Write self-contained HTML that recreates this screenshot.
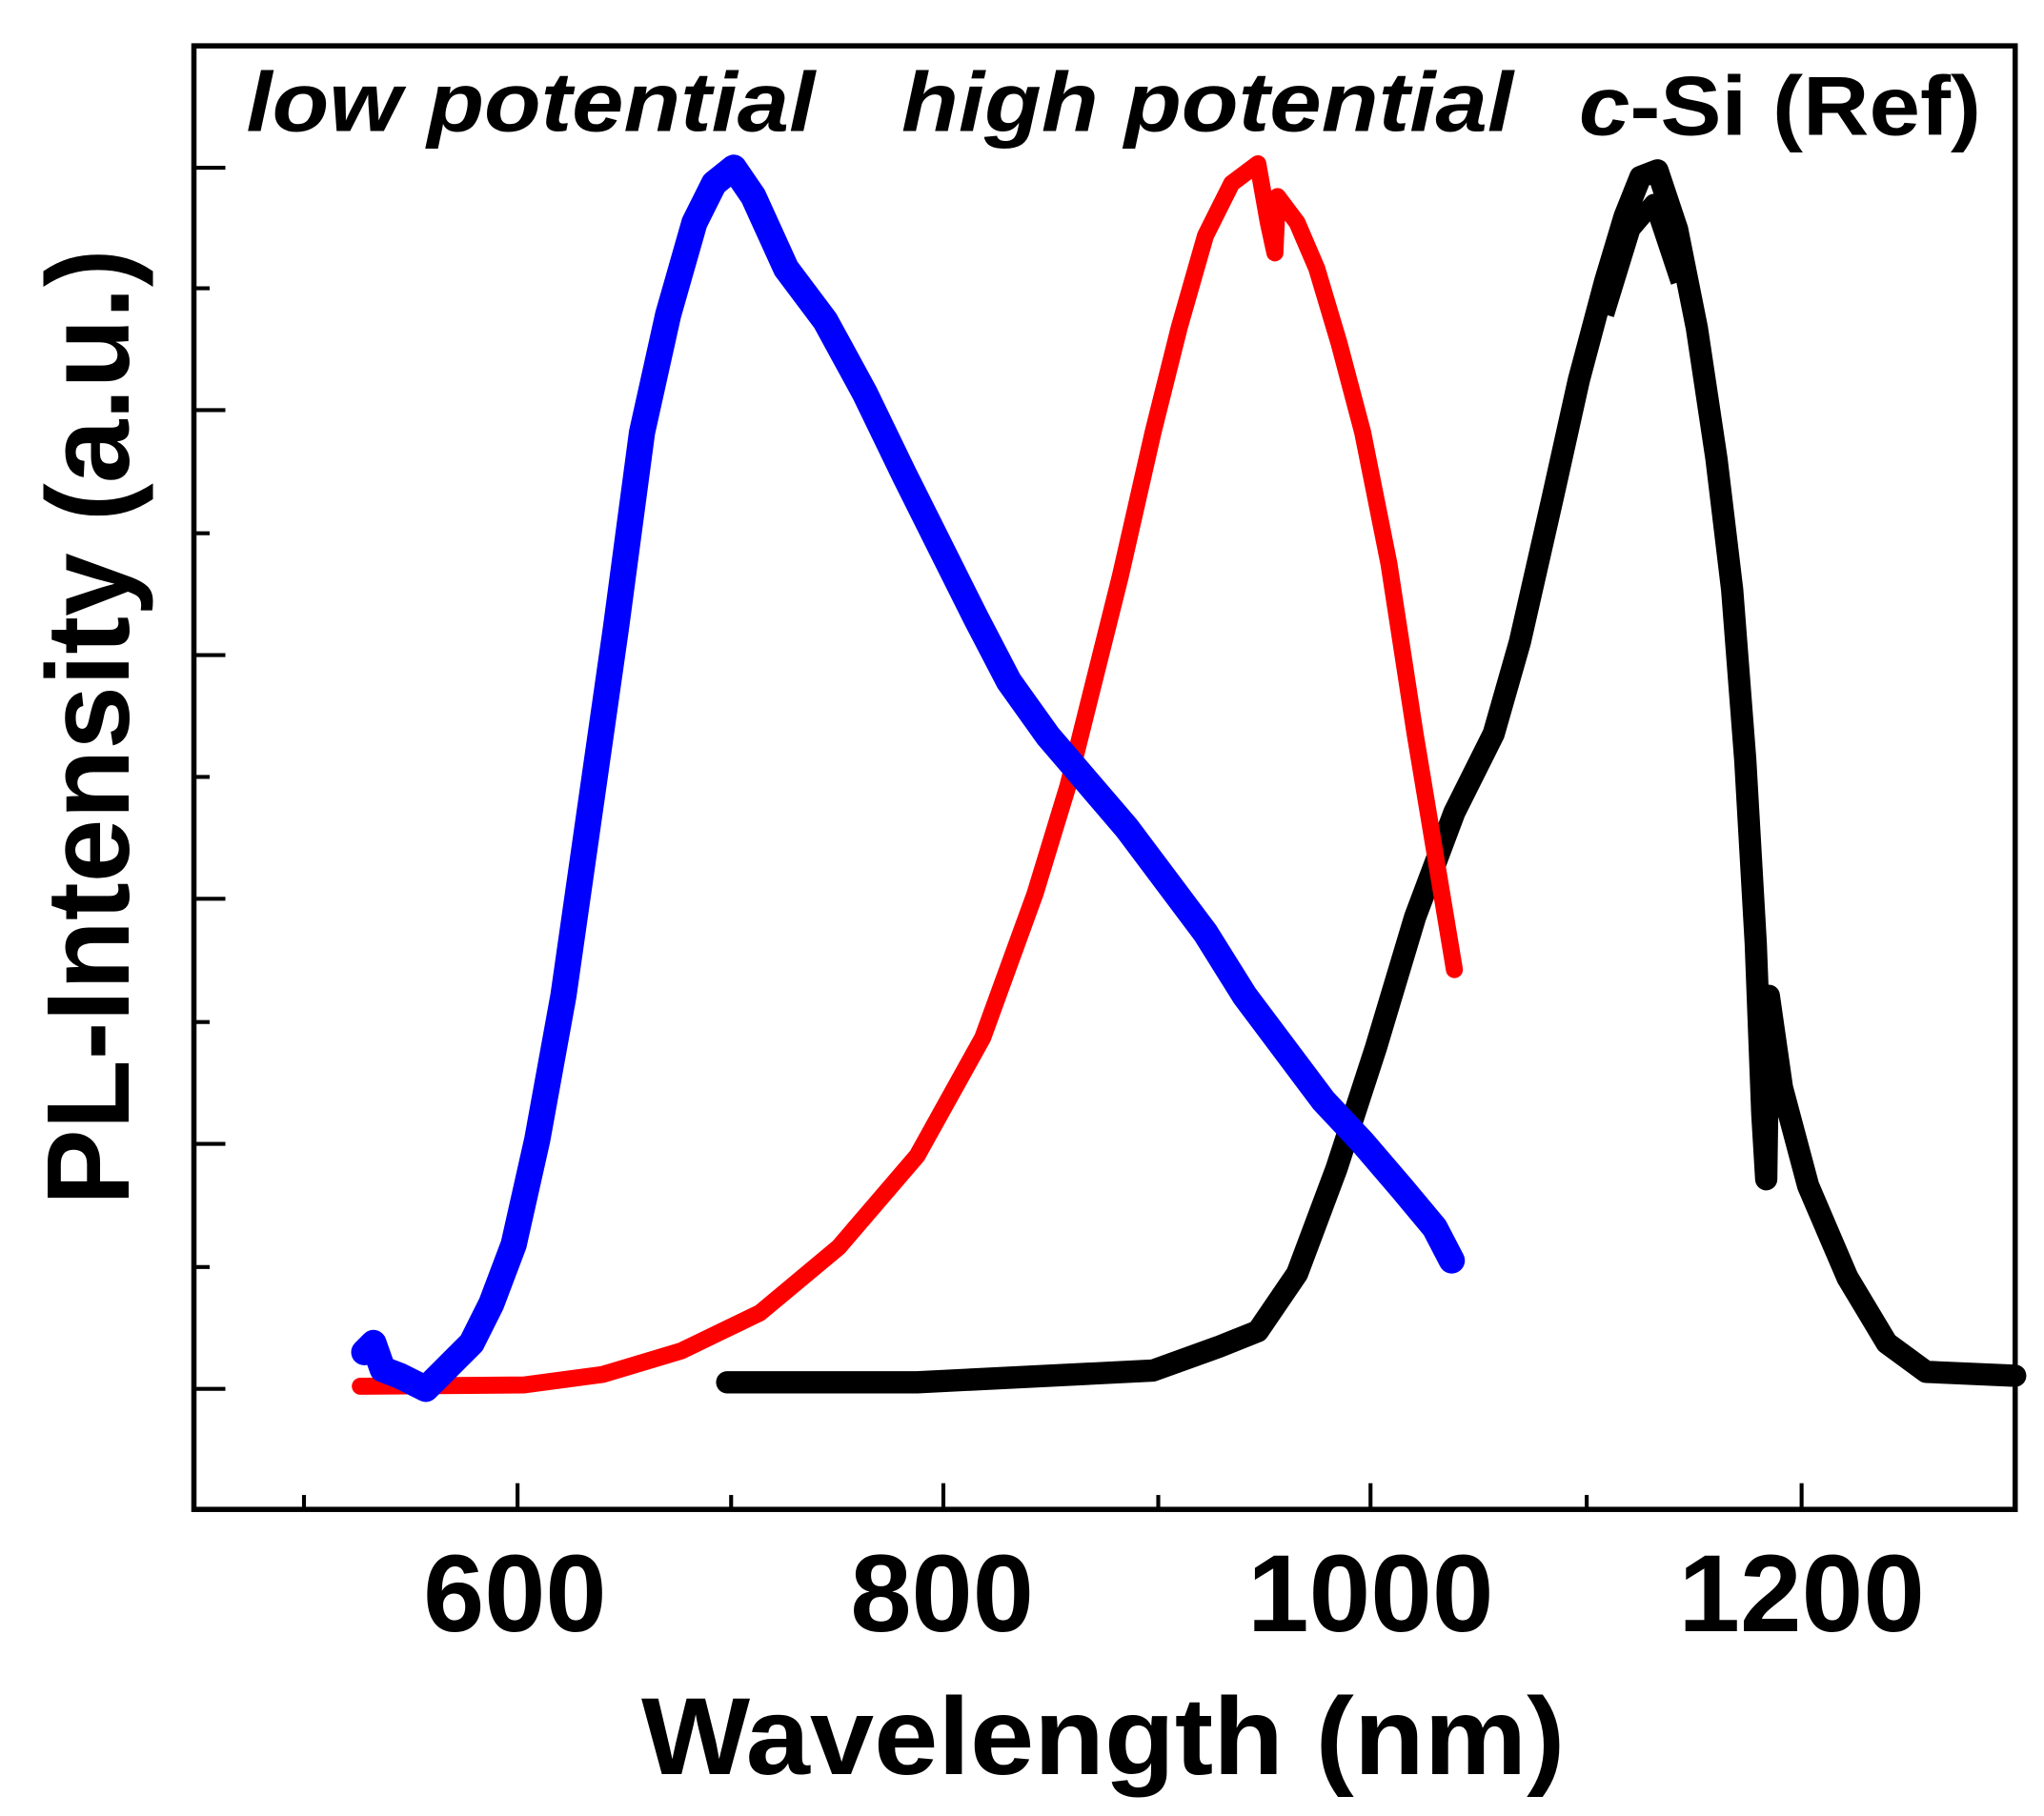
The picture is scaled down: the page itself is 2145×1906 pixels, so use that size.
<!DOCTYPE html>
<html><head><meta charset="utf-8"><style>
html,body{margin:0;padding:0;background:#fff;}
svg{display:block;}
text{font-family:"Liberation Sans",Arial,sans-serif;font-weight:bold;fill:#000;}
</style></head><body>
<svg width="2145" height="1906" viewBox="0 0 1560 1386" preserveAspectRatio="none" xmlns="http://www.w3.org/2000/svg">
<rect width="1560" height="1386" fill="#fff"/>
<rect x="148" y="35" width="1390" height="1117" fill="none" stroke="#000" stroke-width="4"/>
<g stroke="#000" stroke-width="3">
<line x1="232" y1="1152" x2="232" y2="1141"/>
<line x1="395" y1="1152" x2="395" y2="1132"/>
<line x1="558" y1="1152" x2="558" y2="1141"/>
<line x1="720" y1="1152" x2="720" y2="1132"/>
<line x1="884" y1="1152" x2="884" y2="1141"/>
<line x1="1046" y1="1152" x2="1046" y2="1132"/>
<line x1="1211" y1="1152" x2="1211" y2="1141"/>
<line x1="1375" y1="1152" x2="1375" y2="1132"/>
<line x1="148" y1="128" x2="172" y2="128"/>
<line x1="148" y1="220" x2="160" y2="220"/>
<line x1="148" y1="313" x2="172" y2="313"/>
<line x1="148" y1="407" x2="160" y2="407"/>
<line x1="148" y1="500" x2="172" y2="500"/>
<line x1="148" y1="593" x2="160" y2="593"/>
<line x1="148" y1="686" x2="172" y2="686"/>
<line x1="148" y1="780" x2="160" y2="780"/>
<line x1="148" y1="873" x2="172" y2="873"/>
<line x1="148" y1="967" x2="160" y2="967"/>
<line x1="148" y1="1060" x2="172" y2="1060"/>
</g>
<g font-size="84" text-anchor="middle">
<text x="393" y="1245" textLength="140" lengthAdjust="spacingAndGlyphs">600</text>
<text x="719" y="1245" textLength="140" lengthAdjust="spacingAndGlyphs">800</text>
<text x="1046" y="1245" textLength="188" lengthAdjust="spacingAndGlyphs">1000</text>
<text x="1375" y="1245" textLength="188" lengthAdjust="spacingAndGlyphs">1200</text>
</g>
<text x="842" y="1354" font-size="84" text-anchor="middle" textLength="705" lengthAdjust="spacingAndGlyphs">Wavelength (nm)</text>
<text transform="translate(98,555) rotate(-90)" font-size="90" text-anchor="middle" textLength="730" lengthAdjust="spacingAndGlyphs">PL-Intensity (a.u.)</text>
<text x="188" y="100" font-size="64" font-style="italic" textLength="434" lengthAdjust="spacingAndGlyphs">low potential</text>
<text x="688" y="100" font-size="64" font-style="italic" textLength="467" lengthAdjust="spacingAndGlyphs">high potential</text>
<text x="1205" y="103" font-size="64" textLength="307" lengthAdjust="spacingAndGlyphs"><tspan font-style="italic">c</tspan>-Si (Ref)</text>
<polyline fill="none" stroke="#000" stroke-width="17" stroke-linejoin="round" stroke-linecap="round"
points="555,1055 700,1055 880,1046 930,1028 960,1016 990,972 1020,892 1050,800 1080,700 1110,620 1140,560 1160,490 1185,380 1205,290 1225,215 1240,165 1252,135 1265,130 1280,175 1295,250 1310,350 1322,450 1332,580 1340,720 1345,850 1348,900 1350,760 1360,830 1380,905 1410,975 1440,1025 1470,1047 1538,1050"/>
<polyline fill="none" stroke="#000" stroke-width="14" stroke-linejoin="round"
points="1225,240 1245,175 1262,155 1282,215"/>
<polyline fill="none" stroke="#f00" stroke-width="13" stroke-linejoin="round" stroke-linecap="round"
points="275,1058 400,1057 460,1049 520,1031 580,1002 640,952 700,882 750,792 790,682 815,600 835,520 855,440 880,330 900,250 920,180 940,140 960,125 968,170 973,193 975,150 990,170 1005,205 1022,262 1040,330 1060,430 1080,560 1095,650 1110,740"/>
<polyline fill="none" stroke="#00f" stroke-width="20" stroke-linejoin="round" stroke-linecap="round"
points="278,1032 285,1025 292,1045 305,1050 325,1060 340,1045 360,1025 375,995 392,950 410,870 430,760 450,620 470,480 490,330 510,240 530,170 545,140 560,128 575,150 600,205 630,245 660,300 690,362 720,422 745,472 770,520 800,562 830,597 860,632 890,672 920,712 950,760 980,800 1010,840 1040,872 1070,907 1095,937 1108,962"/>
</svg>
</body></html>
